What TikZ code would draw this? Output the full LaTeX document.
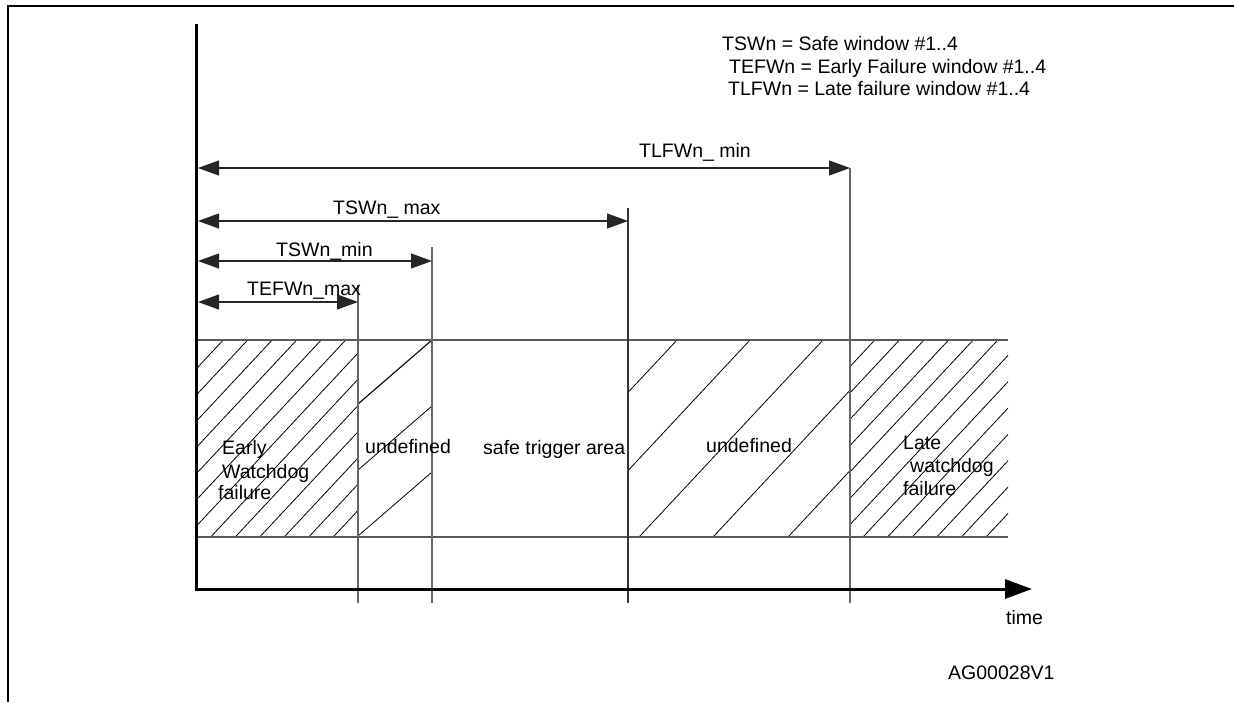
\documentclass[tikz,border=0pt]{standalone}
\usepackage{fontspec}
\setmainfont{Liberation Sans}
\usetikzlibrary{arrows.meta}
\begin{document}
\begin{tikzpicture}[x=1pt,y=-1pt,
  lbl/.style={anchor=base west,inner sep=0pt,font=\fontsize{19.5}{22}\selectfont},
  dim/.style={line width=1.1pt,draw=black!85,{Triangle[length=21pt,width=15pt]}-{Triangle[length=21pt,width=15pt]}},
  tickline/.style={line width=1.2pt,draw=black!60},
  bandline/.style={line width=1.1pt,draw=black!65},
  hatchline/.style={line width=0.8pt,draw=black},
  axisline/.style={line width=3pt,draw=black,line join=miter},
  frameline/.style={line width=2pt,draw=black}]
\useasboundingbox (0,0) rectangle (1234,702);
% frame
\coordinate (fr1) at (1234,6);
\coordinate (fr2) at (8,6);
\coordinate (fr3) at (8,702);
\draw[frameline] (fr1) -- (fr2) -- (fr3);
% hatching: early failure
\begin{scope}
  \clip (196,340) rectangle (358,537);
  \foreach \k in {-8,...,6} {\draw[hatchline] ({210.7+24.5*\k},537) -- ({394.7+24.5*\k},340);}
\end{scope}
% hatching: first undefined
\coordinate (h1a) at (358,404); \coordinate (h1b) at (432,340);
\coordinate (h2a) at (358,470); \coordinate (h2b) at (432,406);
\coordinate (h3a) at (358,536); \coordinate (h3b) at (432,472);
\draw[hatchline,line width=1.1pt] (h1a) -- (h1b);
\draw[hatchline] (h2a) -- (h2b);
\draw[hatchline] (h3a) -- (h3b);
% hatching: second undefined
\begin{scope}
  \clip (628,340) rectangle (850,537);
  \foreach \b in {493,566,639,713,788} {\draw[hatchline] (\b,537) -- ({\b+184},340);}
\end{scope}
% hatching: late failure
\begin{scope}
  \clip (850,340) rectangle (1008,537);
  \foreach \k in {-8,...,5} {\draw[hatchline] ({863+24.6*\k},537) -- ({1047+24.6*\k},340);}
\end{scope}
% band lines
\coordinate (bt1) at (196,340); \coordinate (bt2) at (1008,340);
\coordinate (bb1) at (196,537); \coordinate (bb2) at (1008,537);
\draw[bandline] (bt1) -- (bt2);
\draw[bandline] (bb1) -- (bb2);
% vertical marks
\coordinate (v1t) at (358,285); \coordinate (v1b) at (358,603);
\coordinate (v2t) at (432,247); \coordinate (v2b) at (432,603);
\coordinate (v3t) at (628,208); \coordinate (v3b) at (628,603);
\coordinate (v4t) at (850,168); \coordinate (v4b) at (850,603);
\draw[tickline] (v1t) -- (v1b);
\draw[tickline] (v2t) -- (v2b);
\draw[tickline,draw=black!80] (v3t) -- (v3b);
\draw[tickline] (v4t) -- (v4b);
% axes
\coordinate (ytop) at (196,24);
\coordinate (O) at (196,589);
\coordinate (xend) at (1032,589);
\draw[axisline,-{Triangle[length=27pt,width=19pt]}] (ytop) -- (O) -- (xend);
% dimension arrows
\coordinate (d1s) at (198,168); \coordinate (d1e) at (850,168);
\coordinate (d2s) at (198,221); \coordinate (d2e) at (628,221);
\coordinate (d3s) at (198,261); \coordinate (d3e) at (432,261);
\coordinate (d4s) at (198,302); \coordinate (d4e) at (358,302);
\draw[dim] (d1s) -- (d1e);
\draw[dim] (d2s) -- (d2e);
\draw[dim] (d3s) -- (d3e);
\draw[dim] (d4s) -- (d4e);
\node[lbl] (l1) at (639,157) {TLFWn\_ min};
\node[lbl] (l2) at (333,214) {TSWn\_ max};
\node[lbl] (l3) at (276,256) {TSWn\_min};
\node[lbl] (l4) at (247,295) {TEFWn\_max};
% legend
\node[lbl] (g1) at (722,50) {TSWn = Safe window \#1..4};
\node[lbl] (g2) at (729,73) {TEFWn = Early Failure window \#1..4};
\node[lbl] (g3) at (728,95) {TLFWn = Late failure window \#1..4};
% region labels
\node[lbl] (e1) at (222,454) {Early};
\node[lbl] (e2) at (222,478) {Watchdog};
\node[lbl] (e3) at (218,499) {failure};
\node[lbl] (u1) at (365,453) {undefined};
\node[lbl] (s1) at (483,454) {safe trigger area};
\node[lbl] (u2) at (706,452) {undefined};
\node[lbl] (t1) at (903,449) {Late};
\node[lbl] (t2) at (910,472) {watchdog};
\node[lbl] (t3) at (903,495) {failure};
\node[lbl] (tm) at (1006,624) {time};
\node[lbl] (ag) at (948,679) {AG00028V1};
\end{tikzpicture}
\end{document}
